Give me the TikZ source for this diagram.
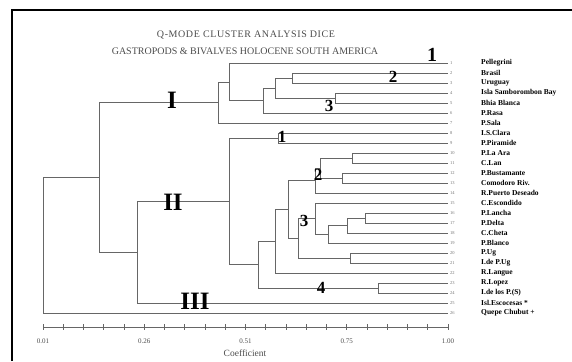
\documentclass[tikz,border=0pt]{standalone}
\usepackage{fontspec}
\setmainfont{Liberation Serif}

\begin{document}
\begin{tikzpicture}[
		x=1pt, y=-1pt,
		% --- ESTILOS DEL DENDROGRAMA ---
		branch/.style = {draw=black!60, line width=0.8pt},
		site/.style = {anchor=west, inner sep=0pt, font=\bfseries\fontsize{7.5}{8}\selectfont},
		otu/.style = {anchor=west, inner sep=0pt, text=black!55, font=\fontsize{4.5}{5}\selectfont},
		cluster/.style = {inner sep=0pt, font=\bfseries\fontsize{25}{25}\selectfont},
		subcluster/.style = {inner sep=0pt, font=\bfseries\fontsize{17}{17}\selectfont},
		% --- ESTILOS DEL EJE Y TITULO ---
		axis/.style = {draw=black!60, line width=0.8pt},
		ticklabel/.style = {inner sep=0pt, text=black!70, font=\fontsize{7}{7}\selectfont},
		title/.style = {inner sep=0pt, text=black!70, font=\fontsize{10}{10}\selectfont}
		]
		\useasboundingbox (0,0) rectangle (572,361);
		
		% =========================================================================
		% 1. MARCO Y TITULO
		% =========================================================================
		\draw[line width=2pt] (12,361) -- (12,10) -- (572,10);
		\node[title] (title_a) at (246,35) {\addfontfeatures{LetterSpace=6}Q-MODE CLUSTER ANALYSIS DICE};
		\node[title] (title_b) at (245,51) {GASTROPODS \& BIVALVES HOLOCENE SOUTH AMERICA};
		
		% =========================================================================
		% 2. HOJAS (LOCALIDADES)
		% =========================================================================
		\foreach \lbl [count=\i] in {Pellegrini, Brasil, Uruguay, Isla Samborombon Bay, Bhia Blanca, P.Rasa, P.Sala, I.S.Clara, P.Piramide, P.La Ara, C.Lan, P.Bustamante, Comodoro Riv., R.Puerto Deseado, C.Escondido, P.Lancha, P.Delta, C.Cheta, P.Blanco, P.Ug, I.de P.Ug, R.Langue, R.Lopez, I.de los P.(S), Isl.Escocesas *, Quepe Chubut +} {
			\pgfmathsetmacro\yy{53+10*\i}
			\coordinate (l\i) at (448,\yy);
			\node[otu] (otu\i) at (450,\yy) {\i};
			\node[site] (site\i) at (481,\yy) {\lbl};
		}
		
		% =========================================================================
		% 3. GRUPO I
		% =========================================================================
		\coordinate (i_a) at (292,78);
		\coordinate (i_b) at (335,98);
		\coordinate (i_c) at (275,88);
		\coordinate (i_d) at (263,100.5);
		\coordinate (i_e) at (229,82);
		\coordinate (i_f) at (218,102.5);
		\draw[branch] (i_a) |- (l2) (i_a) |- (l3);
		\draw[branch] (i_b) |- (l4) (i_b) |- (l5);
		\draw[branch] (i_c) |- (i_a) (i_c) |- (i_b);
		\draw[branch] (i_d) |- (i_c) (i_d) |- (l6);
		\draw[branch] (i_e) |- (l1) (i_e) |- (i_d);
		\draw[branch] (i_f) |- (i_e) (i_f) |- (l7);
		
		% =========================================================================
		% 4. GRUPO II
		% =========================================================================
		\coordinate (ii_a) at (278,138);
		\coordinate (ii_b) at (352,158);
		\coordinate (ii_c) at (342,178);
		\coordinate (ii_d) at (320,168);
		\coordinate (ii_e) at (315,180.5);
		\coordinate (ii_f) at (365,218);
		\coordinate (ii_g) at (347,225.5);
		\coordinate (ii_h) at (328,234);
		\coordinate (ii_i) at (315,218.5);
		\coordinate (ii_j) at (350,258);
		\coordinate (ii_k) at (298,238);
		\coordinate (ii_l) at (288,209);
		\coordinate (ii_m) at (275,241);
		\coordinate (ii_n) at (378,288);
		\coordinate (ii_o) at (258,264.5);
		\coordinate (ii_p) at (229,201);
		\draw[branch] (ii_a) |- (l8) (ii_a) |- (l9);
		\draw[branch] (ii_b) |- (l10) (ii_b) |- (l11);
		\draw[branch] (ii_c) |- (l12) (ii_c) |- (l13);
		\draw[branch] (ii_d) |- (ii_b) (ii_d) |- (ii_c);
		\draw[branch] (ii_e) |- (ii_d) (ii_e) |- (l14);
		\draw[branch] (ii_f) |- (l16) (ii_f) |- (l17);
		\draw[branch] (ii_g) |- (ii_f) (ii_g) |- (l18);
		\draw[branch] (ii_h) |- (ii_g) (ii_h) |- (l19);
		\draw[branch] (ii_i) |- (l15) (ii_i) |- (ii_h);
		\draw[branch] (ii_j) |- (l20) (ii_j) |- (l21);
		\draw[branch] (ii_k) |- (ii_i) (ii_k) |- (ii_j);
		\draw[branch] (ii_l) |- (ii_e) (ii_l) |- (ii_k);
		\draw[branch] (ii_m) |- (ii_l) (ii_m) |- (l22);
		\draw[branch] (ii_n) |- (l23) (ii_n) |- (l24);
		\draw[branch] (ii_o) |- (ii_m) (ii_o) |- (ii_n);
		\draw[branch] (ii_p) |- (ii_a) (ii_p) |- (ii_o);
		
		% =========================================================================
		% 5. UNIONES SUPERIORES (GRUPO III Y RAIZ)
		% =========================================================================
		\coordinate (root_a) at (137,252);
		\coordinate (root_b) at (99,177);
		\coordinate (root) at (43,245);
		\draw[branch] (root_a) |- (ii_p) (root_a) |- (l25);
		\draw[branch] (root_b) |- (i_f) (root_b) |- (root_a);
		\draw[branch] (root) |- (root_b) (root) |- (l26);
		
		% Etiquetas de grupos
		\node[cluster] (lab_i) at (172,100) {I};
		\node[cluster] (lab_ii) at (173,202) {II};
		\node[cluster] (lab_iii) at (195,301) {III};
		\node[subcluster, font=\bfseries\fontsize{20}{20}\selectfont] (sub_i1) at (432,55) {1};
		\node[subcluster] (sub_i2) at (393,77) {2};
		\node[subcluster] (sub_i3) at (329,106) {3};
		\node[subcluster] (sub_ii1) at (282,137) {1};
		\node[subcluster] (sub_ii2) at (318,175) {2};
		\node[subcluster] (sub_ii3) at (304,221) {3};
		\node[subcluster] (sub_ii4) at (321,288) {4};
		
		% =========================================================================
		% 6. EJE DEL COEFICIENTE
		% =========================================================================
		\coordinate (ax_start) at (43,327);
		\coordinate (ax_end) at (448,327);
		\draw[axis] (ax_start) -- (ax_end);
		\foreach \k in {0,...,20} {
			\draw[axis] ({43+20.25*\k},324) -- ({43+20.25*\k},330);
		}
		\foreach \v [count=\k from 0] in {0.01,0.26,0.51,0.75,1.00} {
			\node[ticklabel] (tick\k) at ({43+101.25*\k},341) {\v};
		}
		\node[ticklabel, font=\fontsize{9.5}{9.5}\selectfont] (ax_title) at (245,353) {Coefficient};
		
	\end{tikzpicture}
\end{document}
